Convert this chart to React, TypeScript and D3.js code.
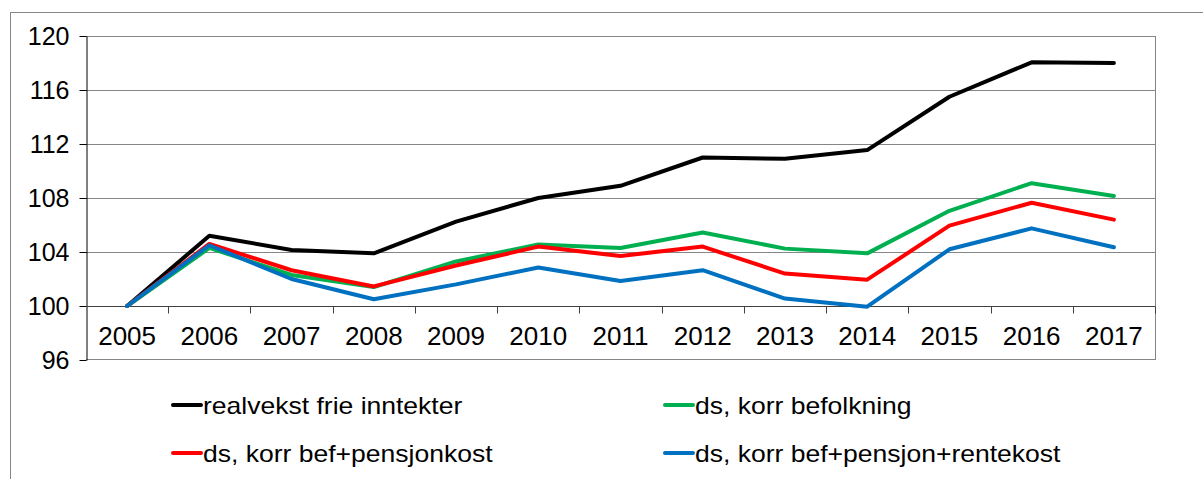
import React, { useRef, useEffect } from "react";
import * as d3 from "d3";

const years = ["2005", "2006", "2007", "2008", "2009", "2010", "2011", "2012", "2013", "2014", "2015", "2016", "2017"];
const yTicks = [96, 100, 104, 108, 112, 116, 120];

const realvekst = [100, 105.2, 104.15, 103.9, 106.25, 108.0, 108.9, 111.0, 110.9, 111.55, 115.5, 118.05, 118.0];
const korrBef = [100, 104.3, 102.3, 101.4, 103.3, 104.55, 104.3, 105.45, 104.25, 103.9, 107.05, 109.1, 108.15];
const korrBefPensjon = [100, 104.6, 102.65, 101.45, 103.0, 104.4, 103.7, 104.4, 102.4, 101.95, 105.95, 107.65, 106.4];
const korrBefPensjonRente = [100, 104.5, 102.0, 100.5, 101.6, 102.85, 101.85, 102.65, 100.55, 99.95, 104.2, 105.75, 104.35];

const seriesNames = ["realvekst frie inntekter", "ds, korr befolkning", "ds, korr bef+pensjonkost", "ds, korr bef+pensjon+rentekost"];
const seriesColors = ["#000000", "#00B050", "#FF0000", "#0070C0"];
const seriesValues = [realvekst, korrBef, korrBefPensjon, korrBefPensjonRente];

export default function App() {
  const svgRef = useRef<SVGSVGElement>(null);

  useEffect(() => {
    const W = 1203, H = 479;
    const left = 86, right = 1155, top = 36, bottom = 360;
    const font = "'Liberation Sans', Arial, sans-serif";

    const svg = d3.select(svgRef.current).attr("width", W).attr("height", H);
    svg.selectAll("*").remove();

    // outer chart border
    svg.append("rect")
      .attr("x", 10.5).attr("y", 12.5)
      .attr("width", 1200).attr("height", 480)
      .attr("fill", "white").attr("stroke", "#868686");

    const x = d3.scaleBand().domain(years).range([left, right]);
    const y = d3.scaleLinear().domain([96, 120]).range([bottom, top]);

    // gridlines
    svg.append("g").selectAll("line").data(yTicks.filter(t => t !== 96 && t !== 100)).join("line")
      .attr("x1", left).attr("x2", right)
      .attr("y1", d => Math.round(y(d)) + 0.5).attr("y2", d => Math.round(y(d)) + 0.5)
      .attr("stroke", "#868686");

    // plot frame right/bottom
    svg.append("line").attr("x1", right + 0.5).attr("x2", right + 0.5).attr("y1", top).attr("y2", bottom)
      .attr("stroke", "#868686");
    svg.append("line").attr("x1", left).attr("x2", right).attr("y1", bottom - 0.5).attr("y2", bottom - 0.5)
      .attr("stroke", "#868686");

    // y axis
    const yAxis = svg.append("g")
      .attr("transform", `translate(${left + 0.5},0)`)
      .call(d3.axisLeft(y).tickValues(yTicks).tickSize(7).tickPadding(10).tickSizeOuter(0));
    yAxis.select(".domain").attr("stroke", "#000");
    yAxis.selectAll(".tick line").attr("stroke", "#000");
    yAxis.selectAll(".tick text").attr("font-family", font).attr("font-size", 25).attr("fill", "#000");
    yAxis.selectAll(".tick").attr("transform", (d: any) => `translate(0,${Math.round(y(d)) + 0.5})`);

    // x axis at 100
    const y100 = Math.round(y(100)) + 0.5;
    svg.append("line").attr("x1", left).attr("x2", right).attr("y1", y100).attr("y2", y100).attr("stroke", "#404040");
    const boundaries = years.map((d, i) => (i === 0 ? left : x(d)!)).concat([right]);
    svg.append("g").selectAll("line").data(boundaries.slice(1)).join("line")
      .attr("x1", d => Math.round(d) + 0.5).attr("x2", d => Math.round(d) + 0.5)
      .attr("y1", y100).attr("y2", y100 + 7).attr("stroke", "#404040");
    svg.append("g").selectAll("text").data(years).join("text")
      .attr("x", d => x(d)! + x.bandwidth() / 2)
      .attr("y", 345)
      .attr("text-anchor", "middle")
      .attr("font-family", font).attr("font-size", 25)
      .attr("transform", d => {
        const cx = x(d)! + x.bandwidth() / 2;
        return `translate(${cx},0) scale(1.04,1) translate(${-cx},0)`;
      })
      .text(d => d);

    // lines
    const line = d3.line<number>()
      .x((_, i) => x(years[i])! + x.bandwidth() / 2)
      .y(d => y(d));
    svg.append("g").selectAll("path").data(seriesValues).join("path")
      .attr("d", d => line(d))
      .attr("fill", "none")
      .attr("stroke", (_, i) => seriesColors[i])
      .attr("stroke-width", 4)
      .attr("stroke-linejoin", "round")
      .attr("stroke-linecap", "round");

    // legend (text is a bit wider than plain Arial in the original)
    const legendPos = [[173, 405], [665, 405], [173, 453], [665, 453]];
    const lg = svg.append("g").selectAll("g").data(seriesNames).join("g")
      .attr("transform", (_, i) => `translate(${legendPos[i][0]},${legendPos[i][1]})`);
    lg.append("line").attr("x1", 0).attr("x2", 28).attr("y1", 0).attr("y2", 0)
      .attr("stroke", (_, i) => seriesColors[i]).attr("stroke-width", 4).attr("stroke-linecap", "round");
    lg.append("text").attr("x", 0).attr("y", 9)
      .attr("transform", "translate(30,0) scale(1.105,1)")
      .attr("font-family", font).attr("font-size", 24)
      .text(d => d);
  }, []);

  return <svg ref={svgRef} style={{ position: "absolute", left: 0, top: 0, display: "block" }} />;
}
